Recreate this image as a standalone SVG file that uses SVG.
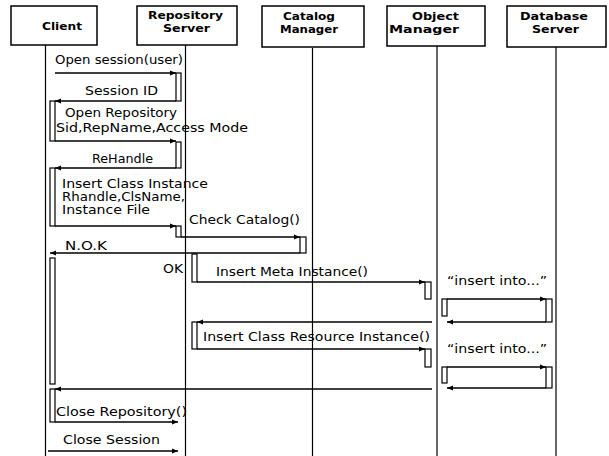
<svg xmlns="http://www.w3.org/2000/svg" width="609" height="456" viewBox="0 0 609 456">
<style>
.box{fill:#fff;stroke:#000;stroke-width:1.5}
.life{stroke:#000;stroke-width:1.2;fill:none}
.act{fill:#fff;stroke:#000;stroke-width:1.2}
.msg{stroke:#000;stroke-width:1.3;fill:none;marker-end:url(#ah)}
.hd{font-family:"DejaVu Sans","Liberation Sans",sans-serif;font-weight:bold;font-size:11px;fill:#000}
.lb{font-family:"DejaVu Sans","Liberation Sans",sans-serif;font-size:12px;fill:#000}
</style>
<defs>
<marker id="ah" markerUnits="userSpaceOnUse" markerWidth="6" markerHeight="6" refX="6" refY="3" orient="auto">
<path d="M0,0.5 L6,3 L0,5.5 z" fill="#000"/>
</marker>
</defs>
<rect width="609" height="456" fill="#fff"/>

<g id="lifelines">
<line class="life" x1="45.5" y1="45" x2="45.5" y2="456"/>
<line class="life" x1="185.5" y1="45" x2="185.5" y2="456"/>
<line class="life" x1="312.5" y1="48" x2="312.5" y2="456"/>
<line class="life" x1="437" y1="46" x2="437" y2="456"/>
<line class="life" x1="556" y1="47" x2="556" y2="456"/>
</g>

<g id="client">
<rect class="box" x="11" y="6" width="86" height="39"/>
<text class="hd" x="42" y="30" textLength="40" lengthAdjust="spacingAndGlyphs">Client</text>
</g>
<g id="repository-server">
<rect class="box" x="137" y="6" width="100" height="39"/>
<text class="hd" x="148" y="19" textLength="75" lengthAdjust="spacingAndGlyphs">Repository</text>
<text class="hd" x="163" y="32" textLength="47" lengthAdjust="spacingAndGlyphs">Server</text>
</g>
<g id="catalog-manager">
<rect class="box" x="262" y="6" width="102" height="41"/>
<text class="hd" x="283" y="20" textLength="52" lengthAdjust="spacingAndGlyphs">Catalog</text>
<text class="hd" x="280" y="33" textLength="58" lengthAdjust="spacingAndGlyphs">Manager</text>
</g>
<g id="object-manager">
<rect class="box" x="387" y="6" width="98" height="40"/>
<text class="hd" x="412" y="20" textLength="47" lengthAdjust="spacingAndGlyphs">Object</text>
<text class="hd" x="389" y="33" textLength="70" lengthAdjust="spacingAndGlyphs">Manager</text>
</g>
<g id="database-server">
<rect class="box" x="507" y="6" width="99" height="41"/>
<text class="hd" x="520" y="20" textLength="68" lengthAdjust="spacingAndGlyphs">Database</text>
<text class="hd" x="532" y="33" textLength="47" lengthAdjust="spacingAndGlyphs">Server</text>
</g>

<g id="activations">
<rect class="act" x="176" y="73" width="5" height="28"/>
<rect class="act" x="176" y="142" width="5" height="26"/>
<rect class="act" x="176" y="226" width="5" height="11"/>
<rect class="act" x="192" y="254" width="5" height="28"/>
<rect class="act" x="192" y="322" width="5" height="27"/>
<rect class="act" x="50" y="101" width="5" height="40"/>
<rect class="act" x="50" y="168" width="5" height="58"/>
<rect class="act" x="50" y="258" width="5" height="126"/>
<rect class="act" x="50" y="389" width="5" height="33"/>
<rect class="act" x="300" y="237" width="6" height="16"/>
<rect class="act" x="425" y="282" width="6" height="17"/>
<rect class="act" x="442" y="299" width="5" height="17"/>
<rect class="act" x="425" y="349" width="6" height="18"/>
<rect class="act" x="442" y="367" width="5" height="16"/>
<rect class="act" x="546" y="299" width="6" height="23"/>
<rect class="act" x="546" y="367" width="6" height="21"/>
</g>

<g id="connectors">
<line class="msg" x1="55" y1="73" x2="176" y2="73"/>
<line class="msg" x1="176" y1="101" x2="55" y2="101"/>
<line class="msg" x1="55" y1="141" x2="176" y2="141"/>
<line class="msg" x1="176" y1="168" x2="55" y2="168"/>
<line class="msg" x1="55" y1="226" x2="176" y2="226"/>
<line class="msg" x1="181" y1="237" x2="300" y2="237"/>
<line class="msg" x1="300" y1="253" x2="50" y2="253"/>
<line class="msg" x1="197" y1="282" x2="425" y2="282"/>
<line class="msg" x1="447" y1="299" x2="546" y2="299"/>
<line class="msg" x1="546" y1="322" x2="447" y2="322"/>
<line class="msg" x1="432" y1="322" x2="197" y2="322"/>
<line class="msg" x1="197" y1="349" x2="425" y2="349"/>
<line class="msg" x1="447" y1="367" x2="546" y2="367"/>
<line class="msg" x1="546" y1="388" x2="447" y2="388"/>
<line class="msg" x1="432" y1="389" x2="55" y2="389"/>
<line class="msg" x1="55" y1="422" x2="178" y2="422"/>
<line class="msg" x1="48" y1="451" x2="178" y2="451"/>
</g>

<g id="labels">
<text class="lb" x="55" y="64" textLength="128" lengthAdjust="spacingAndGlyphs">Open session(user)</text>
<text class="lb" x="85" y="95" textLength="73" lengthAdjust="spacingAndGlyphs">Session ID</text>
<text class="lb" x="65" y="117" textLength="112" lengthAdjust="spacingAndGlyphs">Open Repository</text>
<text class="lb" x="56" y="132" textLength="192" lengthAdjust="spacingAndGlyphs">Sid,RepName,Access Mode</text>
<text class="lb" x="92" y="163" textLength="61" lengthAdjust="spacingAndGlyphs">ReHandle</text>
<text class="lb" x="62" y="188" textLength="146" lengthAdjust="spacingAndGlyphs">Insert Class Instance</text>
<text class="lb" x="62" y="201" textLength="123" lengthAdjust="spacingAndGlyphs">Rhandle,ClsName,</text>
<text class="lb" x="62" y="214" textLength="88" lengthAdjust="spacingAndGlyphs">Instance File</text>
<text class="lb" x="189" y="224" textLength="111" lengthAdjust="spacingAndGlyphs">Check Catalog()</text>
<text class="lb" x="65" y="250" textLength="42" lengthAdjust="spacingAndGlyphs">N.O.K</text>
<text class="lb" x="163" y="273" textLength="20" lengthAdjust="spacingAndGlyphs">OK</text>
<text class="lb" x="216" y="276" textLength="152" lengthAdjust="spacingAndGlyphs">Insert Meta Instance()</text>
<text class="lb" x="447" y="285" textLength="100" lengthAdjust="spacingAndGlyphs">“insert into...”</text>
<text class="lb" x="203" y="341" textLength="227" lengthAdjust="spacingAndGlyphs">Insert Class Resource Instance()</text>
<text class="lb" x="447" y="353" textLength="100" lengthAdjust="spacingAndGlyphs">“insert into...”</text>
<text class="lb" x="56" y="416" textLength="131" lengthAdjust="spacingAndGlyphs">Close Repository()</text>
<text class="lb" x="63" y="444" textLength="97" lengthAdjust="spacingAndGlyphs">Close Session</text>
</g>
</svg>
